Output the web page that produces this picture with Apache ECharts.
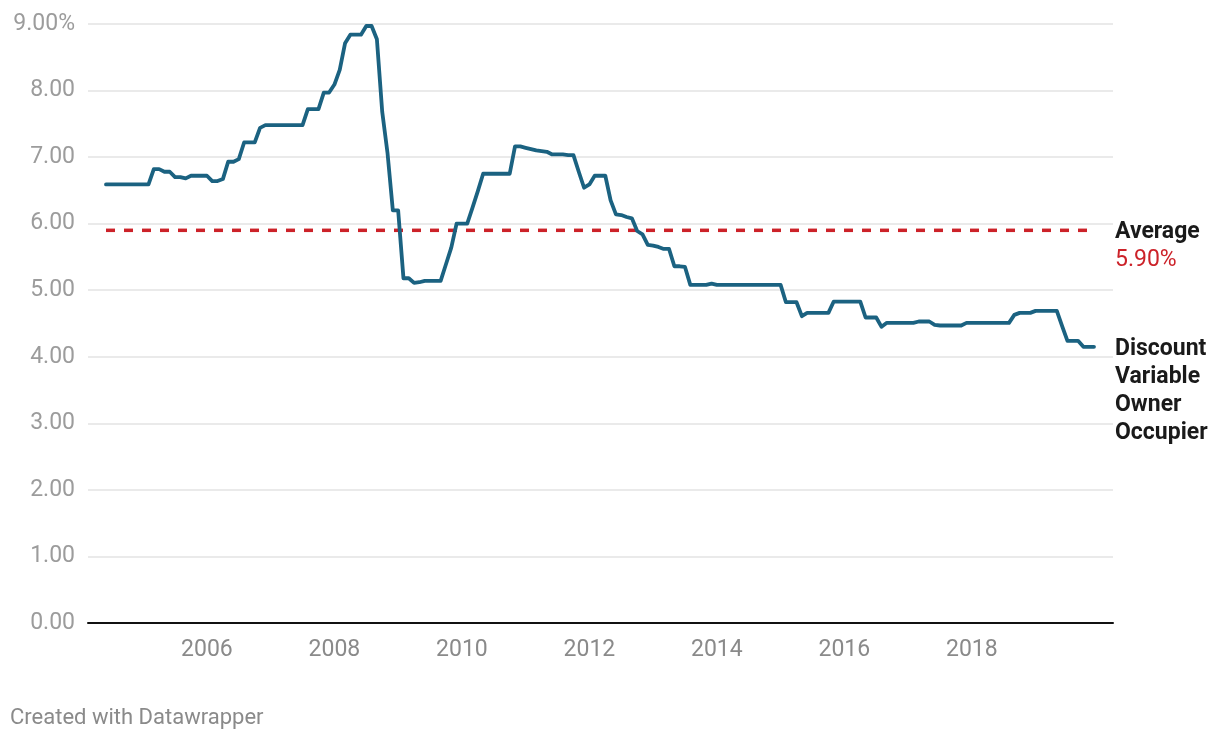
<!DOCTYPE html>
<html>
<head>
<meta charset="utf-8">
<script src="https://cdn.jsdelivr.net/npm/echarts@6/dist/echarts.min.js"></script>
<style>
  html, body { margin: 0; padding: 0; background: #ffffff; }
  #chart { width: 1220px; height: 740px; }
</style>
</head>
<body>
<div id="chart"></div>
<script>
// ---- DATA ----
const startYear = 2004;
const startMonth = 6; // June 2004
const seriesName = 'Discount\nVariable\nOwner\nOccupier';
const rateValues = [
  // 2004 Jun-Dec
  6.59, 6.59, 6.59, 6.59, 6.59, 6.59, 6.59,
  // 2005
  6.59, 6.59, 6.82, 6.82, 6.78, 6.78, 6.70, 6.70, 6.68, 6.72, 6.72, 6.72,
  // 2006
  6.72, 6.64, 6.64, 6.67, 6.93, 6.93, 6.97, 7.22, 7.22, 7.22, 7.44, 7.48,
  // 2007
  7.48, 7.48, 7.48, 7.48, 7.48, 7.48, 7.48, 7.72, 7.72, 7.72, 7.97, 7.97,
  // 2008
  8.09, 8.31, 8.71, 8.84, 8.84, 8.84, 8.97, 8.97, 8.77, 7.68, 7.06, 6.20,
  // 2009
  6.20, 5.18, 5.18, 5.11, 5.12, 5.14, 5.14, 5.14, 5.14, 5.39, 5.64, 6.00,
  // 2010
  6.00, 6.00, 6.24, 6.49, 6.75, 6.75, 6.75, 6.75, 6.75, 6.75, 7.16, 7.16,
  // 2011
  7.14, 7.12, 7.10, 7.09, 7.08, 7.04, 7.04, 7.04, 7.03, 7.03, 6.78, 6.54,
  // 2012
  6.59, 6.72, 6.72, 6.72, 6.35, 6.14, 6.13, 6.10, 6.08, 5.89, 5.84, 5.68,
  // 2013
  5.67, 5.65, 5.62, 5.62, 5.36, 5.36, 5.35, 5.08, 5.08, 5.08, 5.08, 5.10,
  // 2014
  5.08, 5.08, 5.08, 5.08, 5.08, 5.08, 5.08, 5.08, 5.08, 5.08, 5.08, 5.08,
  // 2015
  5.08, 4.82, 4.82, 4.82, 4.61, 4.66, 4.66, 4.66, 4.66, 4.66, 4.83, 4.83,
  // 2016
  4.83, 4.83, 4.83, 4.83, 4.59, 4.59, 4.59, 4.45, 4.51, 4.51, 4.51, 4.51,
  // 2017
  4.51, 4.51, 4.53, 4.53, 4.53, 4.48, 4.47, 4.47, 4.47, 4.47, 4.47, 4.51,
  // 2018
  4.51, 4.51, 4.51, 4.51, 4.51, 4.51, 4.51, 4.51, 4.63, 4.66, 4.66, 4.66,
  // 2019
  4.69, 4.69, 4.69, 4.69, 4.69, 4.46, 4.24, 4.24, 4.24, 4.15, 4.15, 4.15
];
const averageValue = 5.90;
const averageLabel = 'Average';
const xTickLabels = ['2006', '2008', '2010', '2012', '2014', '2016', '2018'];
const yTickLabels = ['0.00', '1.00', '2.00', '3.00', '4.00', '5.00', '6.00', '7.00', '8.00', '9.00%'];

// ---- BUILD ----
const toYear = i => startYear + (startMonth - 1 + i) / 12;
const lineData = rateValues.map((v, i) => [toYear(i), v]);
const xFirst = toYear(0);
const xLast = toYear(rateValues.length - 1);
const avgData = [[xFirst, averageValue], [xLast, averageValue]];

const FONT = 'Roboto, "Noto Sans", sans-serif';
const chart = echarts.init(document.getElementById('chart'), null, { renderer: 'canvas' });

chart.setOption({
  animation: false,
  backgroundColor: '#ffffff',
  textStyle: { fontFamily: FONT },
  grid: { left: 88, right: 107, top: 24, bottom: 117, containLabel: false },
  xAxis: {
    type: 'value',
    min: xFirst - 0.2824,
    max: xLast + 0.298,
    axisLine: { show: true, lineStyle: { color: '#111111', width: 2 } },
    axisTick: { show: false },
    splitLine: { show: false },
    axisLabel: {
      customValues: xTickLabels.map(Number),
      formatter: v => String(Math.round(v)),
      color: '#8a8a8a',
      fontSize: 23,
      fontFamily: FONT,
      margin: 16
    }
  },
  yAxis: {
    type: 'value',
    min: 0,
    max: 9,
    interval: 1,
    axisLine: { show: false },
    axisTick: { show: false },
    splitLine: { show: true, lineStyle: { color: '#e3e3e3', width: 1.5 } },
    axisLabel: {
      formatter: v => yTickLabels[Math.round(v)],
      color: '#9c9c9c',
      fontSize: 23,
      fontFamily: FONT,
      margin: 13
    }
  },
  series: [
    {
      name: 'Average',
      type: 'line',
      data: avgData,
      symbol: 'none',
      silent: true,
      lineStyle: { color: '#cc2229', width: 3.5, type: [9, 9] },
      endLabel: {
        show: true,
        formatter: () => averageLabel + '\n{r|' + averageValue.toFixed(2) + '%}',
        distance: 21,
        align: 'left',
        verticalAlign: 'top',
        offset: [0, -12],
        fontFamily: FONT,
        fontSize: 23,
        fontWeight: 'bold',
        lineHeight: 28,
        color: '#1a1a1a',
        rich: {
          r: { color: '#cc2229', fontWeight: 'normal', fontSize: 23, lineHeight: 28, fontFamily: FONT }
        }
      },
      z: 2
    },
    {
      name: 'Discount Variable Owner Occupier',
      type: 'line',
      data: lineData,
      symbol: 'none',
      smooth: false,
      lineStyle: { color: '#1b6281', width: 3.8, join: 'round', cap: 'round' },
      endLabel: {
        show: true,
        formatter: () => seriesName,
        distance: 21,
        align: 'left',
        verticalAlign: 'top',
        offset: [0, -12],
        fontFamily: FONT,
        fontSize: 23,
        fontWeight: 'bold',
        lineHeight: 28,
        color: '#1a1a1a'
      },
      z: 3
    }
  ],
  graphic: [
    {
      type: 'text',
      left: 10,
      top: 707,
      style: {
        text: 'Created with Datawrapper',
        fill: '#8a8a8a',
        fontSize: 22,
        fontFamily: FONT
      }
    }
  ]
});
</script>
</body>
</html>
